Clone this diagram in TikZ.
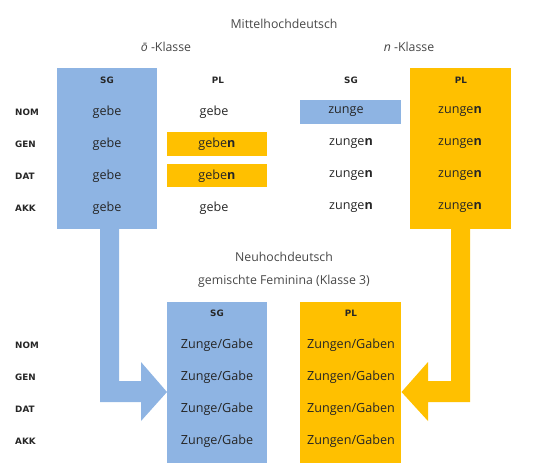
\documentclass[tikz,border=0pt]{standalone}
\usepackage{fontspec}
\setmainfont{Open Sans}
\newfontfamily\labfont{DejaVu Sans}
\definecolor{cblue}{HTML}{8EB4E3}
\definecolor{corange}{HTML}{FFC000}
\definecolor{ctext}{HTML}{262626}
\begin{document}
\begin{tikzpicture}[x=1pt,y=-1pt,
  cell/.style={font=\fontsize{12.6}{14}\selectfont, text=ctext, inner sep=0pt},
  head/.style={font=\fontsize{12.3}{14}\selectfont, text=ctext!85!white, inner sep=0pt},
  lab/.style={font=\labfont\bfseries\fontsize{8.8}{10}\selectfont, text=ctext, inner sep=0pt},
  rowlab/.style={lab, anchor=west}]
\useasboundingbox (0,0) rectangle (548,475);
% boxes (Mittelhochdeutsch)
\fill[cblue] (57,68) rectangle (157,229);
\fill[corange] (410,68) rectangle (511,229);
\fill[corange] (167,132) rectangle (267,156);
\fill[corange] (167,164) rectangle (267,187);
\fill[cblue] (300,100) rectangle (401,124);
% boxes (Neuhochdeutsch)
\fill[cblue] (167,302) rectangle (267,463);
\fill[corange] (300,302) rectangle (401,463);
% arrows
\fill[cblue] (100,229) -- (119,229) -- (119,381) -- (141,381) -- (141,362) -- (167,392) -- (141,421) -- (141,402) -- (100,402) -- cycle;
\fill[corange] (451,229) -- (470,229) -- (470,402) -- (428,402) -- (428,421) -- (401.5,392) -- (428,362) -- (428,381) -- (451,381) -- cycle;
% titles
\node[head] (t1) at (284,24) {Mittelhochdeutsch};
\node[head] (t2) at (166,47) {\textit{ō} -Klasse};
\node[head] (t3) at (409,47) {\textit{n} -Klasse};
\node[head] (t4) at (284,257) {Neuhochdeutsch};
\node[head] (t5) at (284,281) {gemischte Feminina (Klasse 3)};
% column headers
\node[lab] (h1) at (107,80) {SG};
\node[lab] (h2) at (218,80) {PL};
\node[lab] (h3) at (351,80) {SG};
\node[lab] (h4) at (461,80) {PL};
\node[lab] (h5) at (217,313) {SG};
\node[lab] (h6) at (351,313) {PL};
% row labels
\node[rowlab] (r1) at (15,112) {NOM};
\node[rowlab] (r2) at (15,144) {GEN};
\node[rowlab] (r3) at (15,176) {DAT};
\node[rowlab] (r4) at (15,208) {AKK};
\node[rowlab] (s1) at (15,345) {NOM};
\node[rowlab] (s2) at (15,377) {GEN};
\node[rowlab] (s3) at (15,409) {DAT};
\node[rowlab] (s4) at (15,441) {AKK};
% cells
\node[cell] (a1) at (107,112) {gebe};
\node[cell] (a2) at (107,144) {gebe};
\node[cell] (a3) at (107,176) {gebe};
\node[cell] (a4) at (107,208) {gebe};
\node[cell] (b1) at (214,112) {gebe};
\node[cell] (b2) at (217,144) {gebe\textbf{n}};
\node[cell] (b3) at (217,176) {gebe\textbf{n}};
\node[cell] (b4) at (214,208) {gebe};
\node[cell] (c1) at (346,112) {zunge};
\node[cell] (c2) at (351,144) {zunge\textbf{n}};
\node[cell] (c3) at (351,176) {zunge\textbf{n}};
\node[cell] (c4) at (351,208) {zunge\textbf{n}};
\node[cell] (d1) at (460,112) {zunge\textbf{n}};
\node[cell] (d2) at (460,144) {zunge\textbf{n}};
\node[cell] (d3) at (460,176) {zunge\textbf{n}};
\node[cell] (d4) at (460,208) {zunge\textbf{n}};
\node[cell] (e1) at (217,345) {Zunge/Gabe};
\node[cell] (e2) at (217,377) {Zunge/Gabe};
\node[cell] (e3) at (217,409) {Zunge/Gabe};
\node[cell] (e4) at (217,441) {Zunge/Gabe};
\node[cell] (f1) at (351,345) {Zungen/Gaben};
\node[cell] (f2) at (351,377) {Zungen/Gaben};
\node[cell] (f3) at (351,409) {Zungen/Gaben};
\node[cell] (f4) at (351,441) {Zungen/Gaben};
\end{tikzpicture}
\end{document}
